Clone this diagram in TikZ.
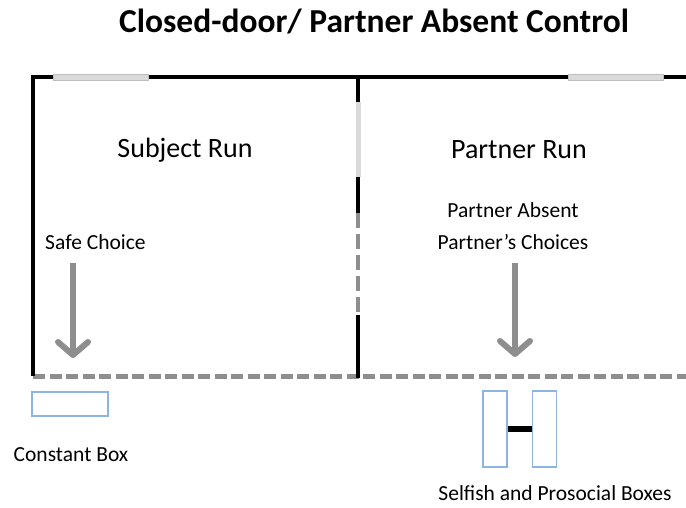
\documentclass[tikz,border=0pt]{standalone}
\usepackage{fontspec}
\setmainfont{Carlito}
\usetikzlibrary{arrows.meta}
\definecolor{openinggray}{HTML}{DADADA}
\definecolor{edgegray}{HTML}{BDBDBD}
\definecolor{dashgray}{HTML}{8E8E8E}
\definecolor{boxblue}{HTML}{8EB4E3}
\tikzset{
  wall/.style={draw=black, line width=4pt},
  opening/.style={fill=openinggray, draw=edgegray, line width=0.5pt},
  window/.style={draw=dashgray, line width=5pt, dash pattern=on 12pt off 4.5pt},
  midwindow/.style={draw=dashgray, line width=4pt, dash pattern=on 15pt off 6pt},
  choice/.style={draw=dashgray, line width=6pt, -{Straight Barb[length=13pt,width=30pt,round]}},
  titletext/.style={font=\bfseries\fontsize{33.5}{38}\selectfont, inner sep=0pt},
  roomtext/.style={font=\fontsize{28}{32}\selectfont, inner sep=0pt},
  lbl/.style={font=\fontsize{21.5}{25}\selectfont, inner sep=0pt},
  choicebox/.style={draw=boxblue, line width=1.5pt, fill=white, inner sep=0pt},
  bar/.style={draw=black, line width=6pt}
}
\begin{document}
\begin{tikzpicture}[x=1pt,y=-1pt]
\useasboundingbox (0,0) rectangle (686,508);

% bottom one-way window and the dashed part of the dividing wall
\draw[window] (33,376) -- (686,376);
\draw[midwindow] (358,213) -- (358,315);

% solid walls
\draw[wall, line join=miter] (33,376) -- (33,77) -- (686,77);
\draw[wall] (358,77) -- (358,102);
\draw[wall] (358,177) -- (358,213);
\draw[wall] (358,315) -- (358,378);

% doors / gaps in the walls
\filldraw[opening] (53,74.5) rectangle (148,80);
\filldraw[opening] (568,74.5) rectangle (663,80);
\fill[openinggray] (356,102) rectangle (360.5,177);

% texts
\node[titletext] (title) at (374,22) {Closed-door/ Partner Absent Control};
\node[roomtext] (subj) at (185,150) {Subject Run};
\node[roomtext] (part) at (519,150) {Partner Run};
\node[lbl, anchor=west] (safe) at (45,242) {Safe Choice};
\node[lbl] (absent) at (513,210) {Partner Absent};
\node[lbl] (pchoice) at (513,242) {Partner’s Choices};

% choice arrows
\coordinate (sa) at (73,263);
\coordinate (sb) at (73,358);
\coordinate (pa) at (515,263);
\coordinate (pb) at (515,357);
\draw[choice] (sa) -- (sb);
\draw[choice] (pa) -- (pb);

% boxes
\node[choicebox, minimum width=76pt, minimum height=24pt] (const) at (70,404) {};
\node[lbl] (constlbl) at (71,455) {Constant Box};
\node[choicebox, minimum width=24pt, minimum height=76pt] (selfish) at (495,429) {};
\node[choicebox, minimum width=24pt, minimum height=76pt] (prosoc) at (544.5,429) {};
\draw[bar] (selfish) -- (prosoc);
\node[lbl] (sellbl) at (555,493) {Selfish and Prosocial Boxes};
\end{tikzpicture}
\end{document}
